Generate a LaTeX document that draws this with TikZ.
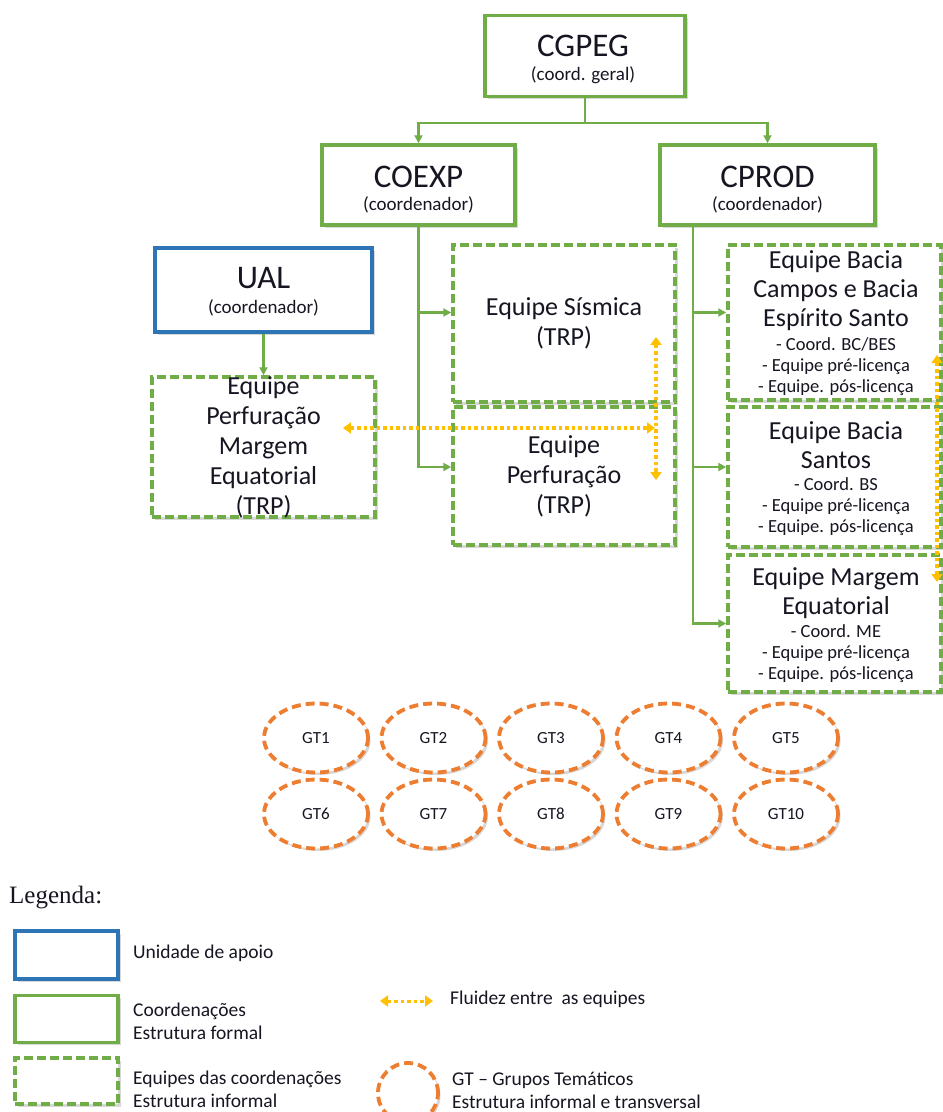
\documentclass[tikz,border=0pt]{standalone}
\usepackage{fontspec}
\setmainfont{Carlito}
\newfontfamily\serifleg{Liberation Serif}
\usetikzlibrary{shapes.geometric,shadows,arrows.meta}
\definecolor{boxgreen}{RGB}{112,173,71}
\definecolor{boxblue}{RGB}{46,117,182}
\definecolor{gtorange}{RGB}{237,125,49}
\definecolor{flowgold}{RGB}{255,192,0}
\definecolor{ink}{RGB}{22,22,34}
\begin{document}
\begin{tikzpicture}[x=1pt,y=-1pt,
  every node/.style={text=ink, inner sep=0pt},
  shade box/.style={drop shadow={opacity=0.3,shadow xshift=2.5pt,shadow yshift=-2.5pt}},
  coordbox/.style={draw=boxgreen, line width=3.5pt, fill=white, shade box},
  supportbox/.style={draw=boxblue, line width=3.5pt, fill=white, shade box},
  teambox/.style={draw=boxgreen, line width=3.5pt, dash pattern=on 9pt off 4pt, fill=white, shade box},
  gtring/.style={ellipse, draw=gtorange, line width=3.8pt, dash pattern=on 9pt off 5pt, fill=white, shade box,
    minimum width=104pt, minimum height=69pt, text height=11pt, text depth=0pt, font=\fontsize{17}{17}\selectfont},
  bigtitle/.style={font=\fontsize{33}{33}\selectfont},
  subtitle/.style={font=\fontsize{19}{19}\selectfont},
  teamtext/.style={align=center, font=\fontsize{26}{30}\selectfont},
  basintext/.style={align=center, font=\fontsize{26}{29}\selectfont},
  notetext/.style={align=center, font=\fontsize{18.5}{21}\selectfont},
  link/.style={draw=boxgreen, line width=2.2pt, -{Triangle[length=8pt,width=8pt]}},
  flow/.style={draw=flowgold, line width=3.5pt, dash pattern=on 3.5pt off 3pt,
    {Triangle[length=8pt,width=11pt]}-{Triangle[length=8pt,width=11pt]}},
  legtext/.style={anchor=west, align=left, font=\fontsize{19.5}{23}\selectfont},
]
\fill[white] (0,0) rectangle (943,1112);
\useasboundingbox (0,0) rectangle (943,1112);

% --- coordination boxes
\node[coordbox, minimum width=200pt, minimum height=81pt] (cgpeg) at (585,56) {};
\node[bigtitle] (cgpegT) at (583,46) {CGPEG};
\node[subtitle] (cgpegS) at (583,75) {(coord. geral)};

\node[coordbox, minimum width=193pt, minimum height=80pt] (coexp) at (418.5,185) {};
\node[bigtitle] (coexpT) at (418.5,177) {COEXP};
\node[subtitle] (coexpS) at (418.5,205) {(coordenador)};

\node[coordbox, minimum width=215pt, minimum height=80pt] (cprod) at (767.5,185) {};
\node[bigtitle] (cprodT) at (767.5,177) {CPROD};
\node[subtitle] (cprodS) at (767.5,205) {(coordenador)};

\node[supportbox, minimum width=217pt, minimum height=84pt] (ual) at (263.5,290) {};
\node[bigtitle] (ualT) at (263.5,278) {UAL};
\node[subtitle] (ualS) at (263.5,308) {(coordenador)};

% --- teams
\node[teambox, minimum width=223pt, minimum height=140pt] (perfme) at (263.5,447) {};
\node[teamtext] (perfmeT) at (263.5,447) {Equipe\\Perfuração\\Margem\\Equatorial\\(TRP)};

\node[teambox, minimum width=222pt, minimum height=157pt] (sismica) at (564,323.5) {};
\node[teamtext] (sismicaT) at (564,323) {Equipe Sísmica\\(TRP)};

\node[teambox, minimum width=222pt, minimum height=138pt] (perf) at (564,476) {};
\node[teamtext] (perfT) at (564,476) {Equipe\\Perfuração\\(TRP)};

\node[teambox, minimum width=213pt, minimum height=155pt] (campos) at (834.5,322.5) {};
\node[basintext] (camposT) at (836,291) {Equipe Bacia\\Campos e Bacia\\Espírito Santo};
\node[notetext] (camposN) at (836,367) {- Coord. BC/BES\\- Equipe pré-licença\\- Equipe. pós-licença};

\node[teambox, minimum width=213pt, minimum height=140pt] (santos) at (834.5,477) {};
\node[basintext] (santosT) at (836,445) {Equipe Bacia\\Santos};
\node[notetext] (santosN) at (836,507) {- Coord. BS\\- Equipe pré-licença\\- Equipe. pós-licença};

\node[teambox, minimum width=213pt, minimum height=137pt] (margem) at (834.5,623.5) {};
\node[basintext] (margemT) at (836,593) {Equipe Margem\\Equatorial};
\node[notetext] (margemN) at (836,654) {- Coord. ME\\- Equipe pré-licença\\- Equipe. pós-licença};

% --- hierarchy links
\coordinate (split) at (585,123);
\draw[link] (cgpeg.south) -- (split) -| (coexp.north);
\draw[link] (split) -| (cprod.north);
\draw[link] (ual.south) -- (perfme.north);

\coordinate (sisIn) at ([yshift=11pt]sismica.west);
\coordinate (perfIn) at ([yshift=9pt]perf.west);
\draw[link] (coexp.south) |- (perfIn);
\draw[link] (sisIn -| coexp.south) -- (sisIn);

\coordinate (camIn) at ([yshift=10pt]campos.west);
\coordinate (santIn) at ([yshift=10pt]santos.west);
\coordinate (marIn) at (margem.west);
\coordinate (trunk) at (693,225);
\draw[link] (trunk) |- (marIn);
\draw[link] (camIn -| trunk) -- (camIn);
\draw[link] (santIn -| trunk) -- (santIn);

% --- flow between teams
\coordinate (flA) at (343,428);
\coordinate (flB) at (655,428);
\coordinate (flC) at (656,337);
\coordinate (flD) at (656,480);
\coordinate (flE) at (937,355);
\coordinate (flF) at (937,582);
\draw[flow] (flA) -- (flB);
\draw[flow] (flC) -- (flD);
\draw[flow] (flE) -- (flF);

% --- thematic groups
\foreach \i [count=\k from 0] in {1,...,5}{
  \node[gtring] (gt\i) at (316+117.5*\k,738) {GT\i};
}
\foreach \i [count=\k from 0] in {6,...,10}{
  \node[gtring] (gt\i) at (316+117.5*\k,814) {GT\i};
}

% --- legend
\node[anchor=west, font=\serifleg\fontsize{25}{25}\selectfont] (legtitle) at (9,898) {Legenda:};
\node[supportbox, minimum width=103pt, minimum height=48pt] (legA) at (66.5,955) {};
\node[legtext] (legAt) at (133,953) {Unidade de apoio};
\node[coordbox, minimum width=103pt, minimum height=47pt] (legB) at (66.5,1019) {};
\node[legtext] (legBt) at (133,1021) {Coordenações\\Estrutura formal};
\node[teambox, minimum width=103pt, minimum height=46pt] (legC) at (66.5,1081) {};
\node[legtext] (legCt) at (133,1089) {Equipes das coordenações\\Estrutura informal};
\coordinate (legF1) at (380,1001);
\coordinate (legF2) at (433,1001);
\draw[flow, line width=3pt] (legF1) -- (legF2);
\node[legtext] (legFt) at (450,999) {Fluidez entre\ \ as equipes};
\node[gtring, minimum width=60pt, minimum height=60pt] (legD) at (408,1093) {};
\node[legtext] (legDt) at (452,1090) {GT – Grupos Temáticos\\Estrutura informal e transversal};
\end{tikzpicture}
\end{document}
